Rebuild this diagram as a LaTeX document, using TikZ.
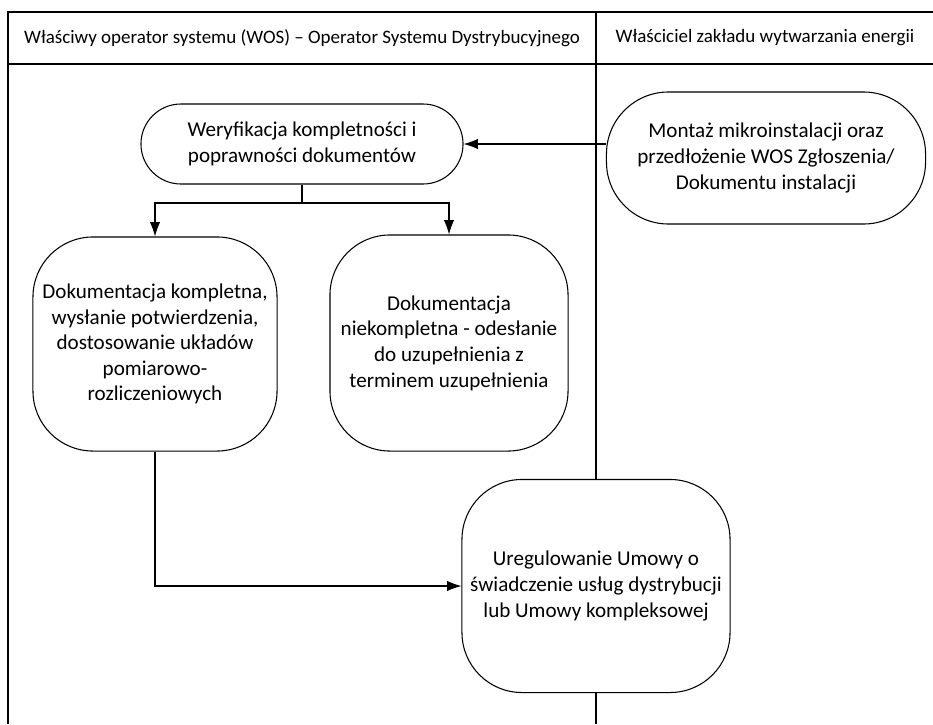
\documentclass[tikz,border=0pt]{standalone}
\usepackage{fontspec}
\setmainfont{Carlito}
\usetikzlibrary{arrows.meta, positioning}
\tikzset{%
	lane/.style = {
		draw=black, line width=0.8pt
	},
	stage/.style = {
		rectangle, draw=black, fill=white,
		line width=0.75pt, align=center,
		font=\fontsize{15pt}{18.2pt}\selectfont
	},
	flow/.style = {
		-{Latex[length=3.6mm, width=2.6mm]}, line width=0.75pt
	}
}

\begin{document}
\begin{tikzpicture}[x=0.025cm, y=-0.025cm, every node/.style={font=\fontsize{13.5pt}{16pt}\selectfont}]
    \useasboundingbox (0,0) rectangle (933,724);
    % Swimlanes
    \draw[lane]               (8,724) -- (8,12) -- (933,12);
    \draw[lane]               (8,64) -- (933,64);
    \draw[lane]               (596,12) -- (596,724);
    \node (osdlane)           at (302,38)    {Właściwy operator systemu (WOS) – Operator Systemu Dystrybucyjnego};
    \node (ownerlane)         at (765,38)    {Właściciel zakładu wytwarzania energii};

    % Specification of nodes (position, etc.)
    \node (wer)   [stage, minimum width=8.05cm, minimum height=2cm, rounded corners=1cm]       at (302,144)
        {Weryfikacja kompletności i\\poprawności dokumentów};
    \node (mont)  [stage, minimum width=7.975cm, minimum height=3.3cm, rounded corners=1.55cm] at (766,158)
        {Montaż mikroinstalacji oraz\\przedłożenie WOS Zgłoszenia/\\Dokumentu instalacji};
    \node (dokk)  [stage, minimum width=6.1cm, minimum height=5.35cm, rounded corners=1.5cm]   at (155,344)
        {Dokumentacja kompletna,\\wysłanie potwierdzenia,\\dostosowanie układów\\pomiarowo-\\rozliczeniowych};
    \node (dokn)  [stage, minimum width=5.95cm, minimum height=5.4cm, rounded corners=1.5cm]   at (449,343)
        {Dokumentacja\\niekompletna - odesłanie\\do uzupełnienia z\\terminem uzupełnienia};
    \node (ureg)  [stage, minimum width=6.7cm, minimum height=5.325cm, rounded corners=1.5cm]  at (596,586)
        {Uregulowanie Umowy o\\świadczenie usług dystrybucji\\lub Umowy kompleksowej};
    \coordinate (split)       at (302,203);

    \draw[flow]               (mont.west |- wer) -- (wer);
    \draw[lane]               (wer) -- (split);
    \draw[flow]               (split) -| (dokk);
    \draw[flow]               (split) -| (dokn);
    \draw[flow]               (dokk) |- (ureg);

\end{tikzpicture}
\end{document}
